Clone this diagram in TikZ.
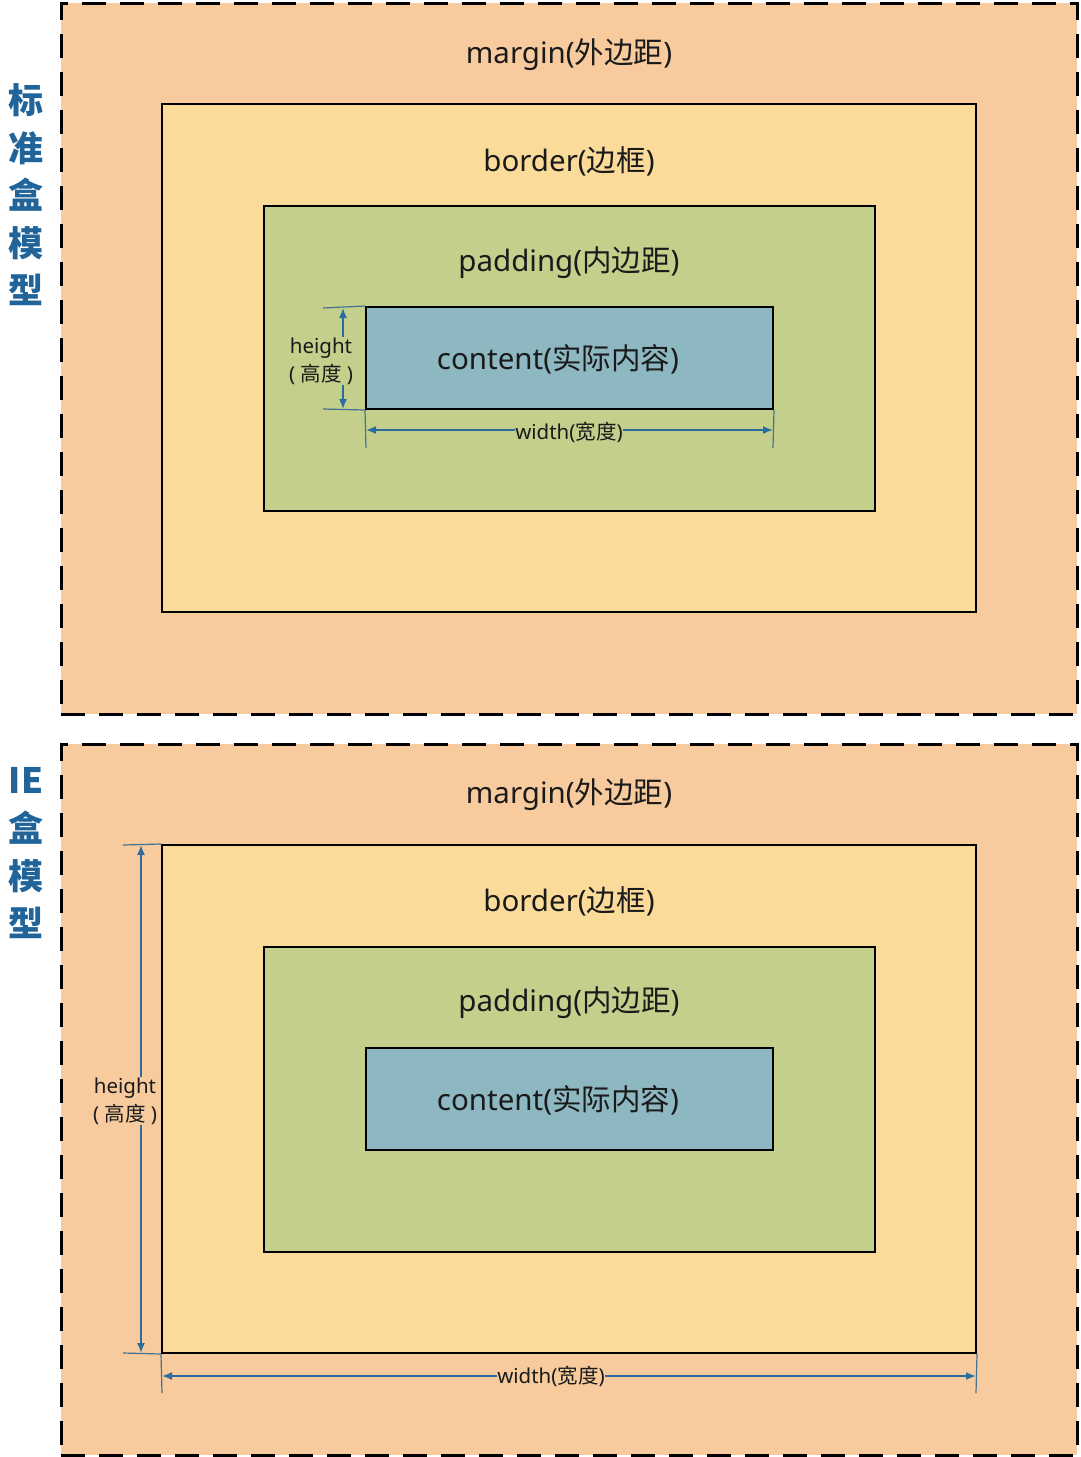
\documentclass[tikz,border=0pt]{standalone}
\usepackage{fontspec}
\setmainfont{Noto Sans}
\newfontfamily\cjk{Noto Sans CJK SC}
\usetikzlibrary{arrows.meta}
\definecolor{mcol}{HTML}{F8CB9E}
\definecolor{bcol}{HTML}{FBDB9A}
\definecolor{pcol}{HTML}{C4CF8C}
\definecolor{ccol}{HTML}{8DB7C1}
\definecolor{dimc}{HTML}{2A6C9E}
\definecolor{sidec}{HTML}{21649A}
\definecolor{txt}{HTML}{1A1A1A}
\begin{document}
\begin{tikzpicture}[x=1pt,y=-1pt,
  marginbox/.style={draw=black,line width=3pt,dash pattern=on 24pt off 14pt,fill=mcol,minimum width=1016pt,minimum height=711pt,inner sep=0pt},
  borderbox/.style={draw=black,line width=2pt,fill=bcol,minimum width=814pt,minimum height=508pt,inner sep=0pt},
  padbox/.style={draw=black,line width=2pt,fill=pcol,minimum width=611pt,minimum height=305pt,inner sep=0pt},
  contbox/.style={draw=black,line width=2pt,fill=ccol,minimum width=407pt,minimum height=102pt,inner sep=0pt},
  biglabel/.style={text=txt,font=\fontsize{29.5}{32}\selectfont,inner sep=0pt},
  smalllabel/.style={text=txt,font=\fontsize{20.5}{28}\selectfont,inner sep=1pt,align=center},
  sidelabel/.style={text=sidec,font=\cjk\fontsize{35}{36}\selectfont\bfseries,inner sep=0pt},
  dimline/.style={draw=dimc,line width=1.6pt,{Latex[length=10pt,width=8pt]}-{Latex[length=10pt,width=8pt]}},
  tickline/.style={draw=dimc!70!gray,line width=1.2pt}
]
\useasboundingbox (0,0) rectangle (1080,1457);

% ---------- top: standard box model ----------
\node[marginbox] (m1) at (569,358.5) {};
\node[borderbox] (b1) at (569,358) {};
\node[padbox] (p1) at (569.5,358.5) {};
\node[contbox] (c1) at (569.5,358) {};
\node[biglabel] (m1t) at (569,55) {margin({\cjk 外边距})};
\node[biglabel] (b1t) at (569,161) {border({\cjk 边框})};
\node[biglabel] (p1t) at (569,263) {padding({\cjk 内边距})};
\node[biglabel] (c1t) at (558,359) {content({\cjk 实际内容})};

\node[sidelabel] (s1) at (26,100) {标};
\node[sidelabel] (s2) at (26,148) {准};
\node[sidelabel] (s3) at (26,195) {盒};
\node[sidelabel] (s4) at (26,243) {模};
\node[sidelabel] (s5) at (26,290) {型};

% height dimension (top)
\coordinate (h1a) at (323,308);
\coordinate (h1b) at (323,409);
\coordinate (h1at) at (343,308);
\coordinate (h1bt) at (343,409);
\draw[tickline] (h1a) -- (c1.north west);
\draw[tickline] (h1b) -- (c1.south west);
\draw[dimline] (h1at) -- (h1bt);
\node[smalllabel,fill=pcol] (h1l) at (321,361) {height\\( {\cjk 高度} )};

% width dimension (top)
\coordinate (w1a) at (366,448);
\coordinate (w1b) at (773,448);
\coordinate (w1at) at (366,430);
\coordinate (w1bt) at (773,430);
\draw[tickline] (c1.south west) -- (w1a);
\draw[tickline] (c1.south east) -- (w1b);
\draw[dimline] (w1at) -- (w1bt);
\node[smalllabel,fill=pcol,inner sep=0pt] (w1l) at (569,432) {width({\cjk 宽度})};

% ---------- bottom: IE box model ----------
\node[marginbox] (m2) at (569,1099.5) {};
\node[borderbox] (b2) at (569,1099) {};
\node[padbox] (p2) at (569.5,1099) {};
\node[contbox] (c2) at (569.5,1099) {};
\node[biglabel] (m2t) at (569,795) {margin({\cjk 外边距})};
\node[biglabel] (b2t) at (569,901) {border({\cjk 边框})};
\node[biglabel] (p2t) at (569,1003) {padding({\cjk 内边距})};
\node[biglabel] (c2t) at (558,1100) {content({\cjk 实际内容})};

\node[sidelabel] (t1) at (26,780) {IE};
\node[sidelabel] (t2) at (26,828) {盒};
\node[sidelabel] (t3) at (26,876) {模};
\node[sidelabel] (t4) at (26,923) {型};

% height dimension (bottom)
\coordinate (h2a) at (123,845);
\coordinate (h2b) at (123,1353);
\coordinate (h2at) at (141,845);
\coordinate (h2bt) at (141,1353);
\draw[tickline] (h2a) -- (b2.north west);
\draw[tickline] (h2b) -- (b2.south west);
\draw[dimline] (h2at) -- (h2bt);
\node[smalllabel,fill=mcol] (h2l) at (125,1101) {height\\( {\cjk 高度} )};

% width dimension (bottom)
\coordinate (w2a) at (162,1393);
\coordinate (w2b) at (976,1393);
\coordinate (w2at) at (162,1376);
\coordinate (w2bt) at (976,1376);
\draw[tickline] (b2.south west) -- (w2a);
\draw[tickline] (b2.south east) -- (w2b);
\draw[dimline] (w2at) -- (w2bt);
\node[smalllabel,fill=mcol,inner sep=0pt] (w2l) at (551,1376) {width({\cjk 宽度})};
\end{tikzpicture}
\end{document}
